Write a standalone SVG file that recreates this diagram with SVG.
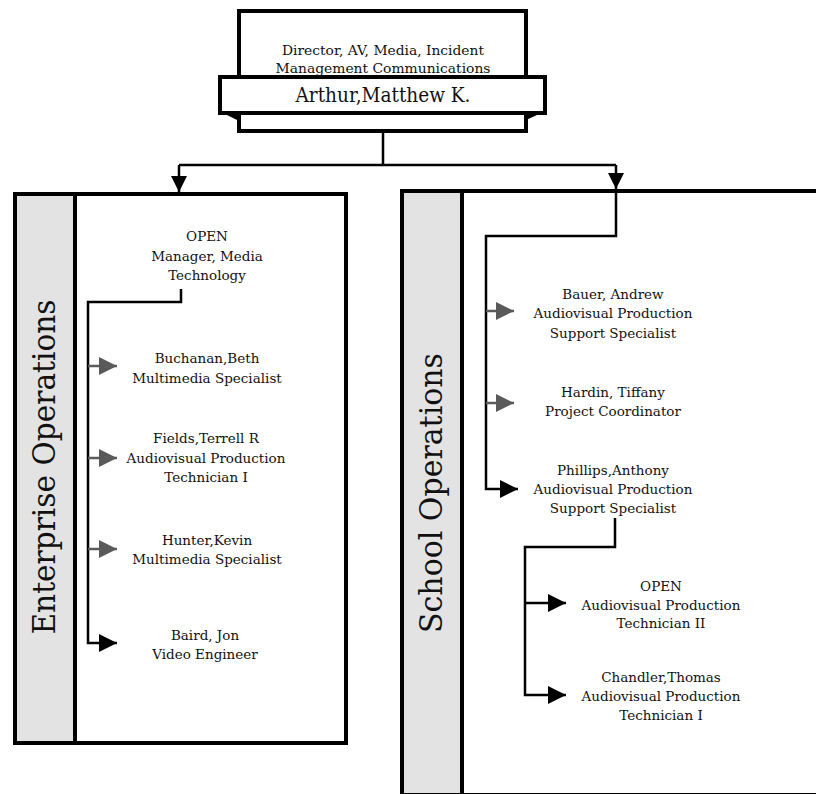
<svg xmlns="http://www.w3.org/2000/svg" width="816" height="794" viewBox="0 0 816 794">
<style>
.t{font-family:"DejaVu Serif","Liberation Serif",serif;font-size:13.5px;fill:#111;text-anchor:middle}
.big{font-family:"DejaVu Serif","Liberation Serif",serif;font-size:31px;fill:#111;text-anchor:middle}
.box{fill:#fff;stroke:#000;stroke-width:4}
.strip{fill:#e3e3e3;stroke:#000;stroke-width:4}
.c{fill:none;stroke:#000;stroke-width:2.5}
.g{fill:none;stroke:#5a5a5a;stroke-width:2.5}
</style>
<defs>
<marker id="ab" markerUnits="userSpaceOnUse" markerWidth="18" markerHeight="18" refX="18" refY="9" orient="auto"><path d="M0,0 L18,9 L0,18 z" fill="#000"/></marker>
<marker id="ag" markerUnits="userSpaceOnUse" markerWidth="18" markerHeight="18" refX="18" refY="9" orient="auto"><path d="M0,0 L18,9 L0,18 z" fill="#5a5a5a"/></marker>
<marker id="at" markerUnits="userSpaceOnUse" markerWidth="16" markerHeight="16" refX="16" refY="8" orient="auto"><path d="M0,0 L16,8 L0,16 z" fill="#000"/></marker>
</defs>
<rect width="816" height="794" fill="#fff"/>
<g id="enterprise-operations">
<rect class="box" x="15" y="194" width="331" height="549"/>
<rect class="strip" x="15" y="194" width="60" height="549"/>
<text class="big" transform="translate(55,467) rotate(-90)" textLength="335" lengthAdjust="spacingAndGlyphs">Enterprise Operations</text>
</g>
<g id="school-operations">
<rect class="box" x="402" y="191" width="500" height="604"/>
<rect class="strip" x="402" y="191" width="60" height="604"/>
<text class="big" transform="translate(442,493) rotate(-90)" textLength="280" lengthAdjust="spacingAndGlyphs">School Operations</text>
</g>
<g id="director">
<rect class="box" x="239" y="11" width="287" height="120"/>
<polygon points="219,111 239,111 239,121" fill="#000"/>
<polygon points="526,111 546,111 526,120" fill="#000"/>
<rect class="box" x="220" y="77" width="325" height="36"/>
<text class="t" x="383" y="55" textLength="202" lengthAdjust="spacingAndGlyphs">Director, AV, Media, Incident</text>
<text class="t" x="383" y="73" textLength="215" lengthAdjust="spacingAndGlyphs">Management Communications</text>
<text class="t" x="383" y="102" style="font-size:20px" textLength="175" lengthAdjust="spacingAndGlyphs">Arthur,Matthew K.</text>
</g>
<g id="connectors">
<path class="c" d="M383,131 V165 M179,165 H616"/>
<path class="c" d="M179,165 V192" marker-end="url(#at)"/>
<path class="c" d="M616,165 V189" marker-end="url(#at)"/>
<path class="c" d="M181,289 V302 H88 V643 H117" marker-end="url(#ab)"/>
<path class="g" d="M88,366 H117" marker-end="url(#ag)"/>
<path class="g" d="M88,458 H117" marker-end="url(#ag)"/>
<path class="g" d="M88,549 H117" marker-end="url(#ag)"/>
<path class="c" d="M616,191 V236 H486 V489 H518" marker-end="url(#ab)"/>
<path class="g" d="M486,311 H514" marker-end="url(#ag)"/>
<path class="g" d="M486,403 H514" marker-end="url(#ag)"/>
<path class="c" d="M615,518 V547 H525 V695 H566" marker-end="url(#ab)"/>
<path class="c" d="M525,603 H566" marker-end="url(#ab)"/>
</g>
<g id="manager-media-technology">
<text class="t" x="207" y="241">OPEN</text>
<text class="t" x="207" y="261">Manager, Media</text>
<text class="t" x="207" y="280">Technology</text>
</g>
<g id="buchanan">
<text class="t" x="207" y="363">Buchanan,Beth</text>
<text class="t" x="207" y="383">Multimedia Specialist</text>
</g>
<g id="fields">
<text class="t" x="206" y="443">Fields,Terrell R</text>
<text class="t" x="206" y="463">Audiovisual Production</text>
<text class="t" x="206" y="482">Technician I</text>
</g>
<g id="hunter">
<text class="t" x="207" y="545">Hunter,Kevin</text>
<text class="t" x="207" y="564">Multimedia Specialist</text>
</g>
<g id="baird">
<text class="t" x="205" y="640">Baird, Jon</text>
<text class="t" x="205" y="659">Video Engineer</text>
</g>
<g id="bauer">
<text class="t" x="613" y="299">Bauer, Andrew</text>
<text class="t" x="613" y="318">Audiovisual Production</text>
<text class="t" x="613" y="338">Support Specialist</text>
</g>
<g id="hardin">
<text class="t" x="613" y="397">Hardin, Tiffany</text>
<text class="t" x="613" y="416">Project Coordinator</text>
</g>
<g id="phillips">
<text class="t" x="613" y="475">Phillips,Anthony</text>
<text class="t" x="613" y="494">Audiovisual Production</text>
<text class="t" x="613" y="513">Support Specialist</text>
</g>
<g id="open-technician-ii">
<text class="t" x="661" y="591">OPEN</text>
<text class="t" x="661" y="610">Audiovisual Production</text>
<text class="t" x="661" y="628">Technician II</text>
</g>
<g id="chandler">
<text class="t" x="661" y="682">Chandler,Thomas</text>
<text class="t" x="661" y="701">Audiovisual Production</text>
<text class="t" x="661" y="720">Technician I</text>
</g>
</svg>
